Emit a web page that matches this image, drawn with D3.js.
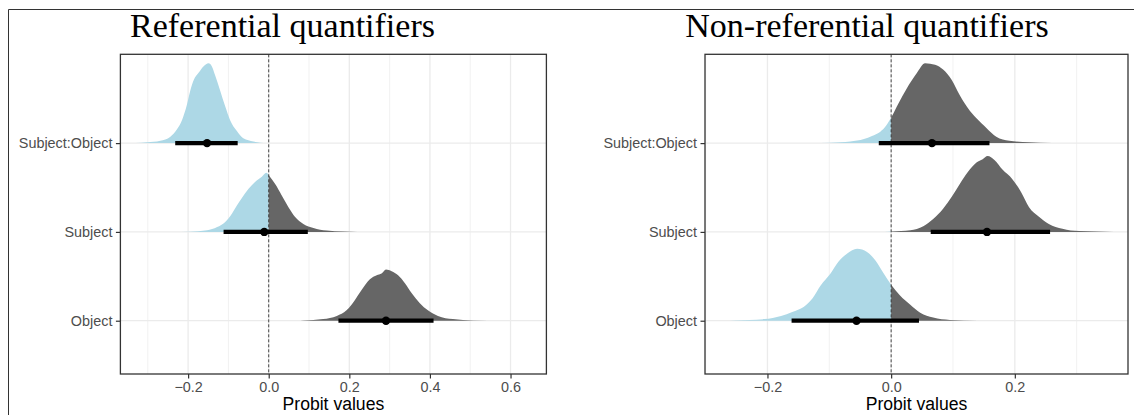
<!DOCTYPE html>
<html>
<head>
<meta charset="utf-8">
<script src="https://cdn.jsdelivr.net/npm/d3@7"></script>
<style>
  body { margin: 0; background: #fff; }
  svg { display: block; }
</style>
</head>
<body>
<div id="chart"></div>
<script>
// Category order from bottom to top
const categories = ["Object", "Subject", "Subject:Object"];

// x tick labels of each panel
const refXTicks = [-0.2, 0, 0.2, 0.4, 0.6];
const refMinorTicks = [-0.3, -0.1, 0.1, 0.3, 0.5];
const nonrefXTicks = [-0.2, 0, 0.2];
const nonrefMinorTicks = [-0.3, -0.1, 0.1, 0.3];

// Posterior densities: [probit value, height in % of panel max]
const refObjectDens = [[0.07,0],[0.086,0.3],[0.135,2],[0.169,6],[0.193,13],[0.214,26],[0.230,38],[0.251,52],[0.268,57],[0.280,59],[0.291,64],[0.305,62],[0.321,57],[0.338,47],[0.354,35],[0.375,22],[0.395,13],[0.420,6],[0.457,2],[0.507,0.4],[0.58,0]];
const refSubjectDens = [[-0.24,0],[-0.195,0.3],[-0.153,2],[-0.128,6],[-0.108,12.5],[-0.091,23],[-0.079,33],[-0.067,42],[-0.050,54],[-0.034,62.5],[-0.017,69],[-0.006,74],[0.003,69],[0.016,60],[0.032,46],[0.049,31],[0.065,19],[0.086,10],[0.111,5],[0.144,1.7],[0.185,0.4],[0.22,0]];
const refSubjObjDens = [[-0.33,0],[-0.302,1],[-0.269,3],[-0.244,8],[-0.228,17],[-0.215,29],[-0.203,48],[-0.195,65],[-0.186,79],[-0.174,88],[-0.162,96],[-0.149,100],[-0.141,96],[-0.133,85],[-0.120,65],[-0.108,46],[-0.096,29],[-0.079,15],[-0.063,6],[-0.038,2],[-0.005,0]];

const nonrefObjectDens = [[-0.27,0],[-0.253,0.4],[-0.205,2],[-0.178,6],[-0.160,11],[-0.141,17.5],[-0.127,28],[-0.114,44],[-0.098,59],[-0.085,74],[-0.071,84],[-0.055,90],[-0.039,86],[-0.026,76],[-0.012,59],[0,45],[0.014,32],[0.031,20],[0.047,10],[0.068,4],[0.095,1],[0.14,0]];
const nonrefSubjectDens = [[-0.01,0],[0.001,0.4],[0.031,2],[0.052,7],[0.068,16],[0.084,29],[0.098,44],[0.111,60],[0.124,75],[0.138,87],[0.148,91],[0.156,95],[0.167,90],[0.180,78],[0.196,66],[0.210,50],[0.223,31],[0.239,19],[0.255,10],[0.277,4],[0.304,1],[0.36,0]];
const nonrefSubjObjDens = [[-0.13,0],[-0.098,0.5],[-0.066,2],[-0.044,5],[-0.031,9],[-0.018,14],[-0.008,22],[0,32],[0.012,50],[0.025,68],[0.041,87],[0.055,100],[0.071,98],[0.084,92],[0.098,79],[0.111,60],[0.124,44],[0.138,31],[0.154,19],[0.170,8],[0.191,3],[0.223,1],[0.26,0]];

// 95% intervals and point estimates, same order as categories
const refLower = [0.173, -0.112, -0.232];
const refPoint = [0.291, -0.011, -0.153];
const refUpper = [0.409, 0.097, -0.077];
const nonrefLower = [-0.161, 0.064, -0.020];
const nonrefPoint = [-0.056, 0.155, 0.066];
const nonrefUpper = [0.045, 0.257, 0.159];

const width = 1134, height = 415;
const panelTop = 54.3, panelBottom = 374;

const panels = [
  { id: "ref", title: "Referential quantifiers", titleX: 282.5, left: 120.4, right: 546.4,
    domain: [-0.368, 0.689], ticks: refXTicks, minor: refMinorTicks,
    dens: [refObjectDens, refSubjectDens, refSubjObjDens],
    lower: refLower, point: refPoint, upper: refUpper },
  { id: "nonref", title: "Non-referential quantifiers", titleX: 867, left: 705, right: 1128,
    domain: [-0.301, 0.383], ticks: nonrefXTicks, minor: nonrefMinorTicks,
    dens: [nonrefObjectDens, nonrefSubjectDens, nonrefSubjObjDens],
    lower: nonrefLower, point: nonrefPoint, upper: nonrefUpper }
];

const svg = d3.select("#chart").append("svg")
  .attr("width", width)
  .attr("height", height);

const defs = svg.append("defs");

// outer frame (cut off at right and bottom)
svg.append("path")
  .attr("d", "M8.5," + height + "V9.5H" + width)
  .attr("fill", "none")
  .attr("stroke", "#333")
  .attr("stroke-width", 1);

// y scale shared by both panels (categories at 1, 2, 3)
const y = d3.scaleLinear().domain([0.4, 4.0]).range([panelBottom, panelTop]);
const bandPx = y(1) - y(2);
// 100% density = 0.9 of a category step
const hScale = d3.scaleLinear().domain([0, 100]).range([0, 0.9 * bandPx]);

panels.forEach(p => {
  const x = d3.scaleLinear().domain(p.domain).range([p.left, p.right]);
  const g = svg.append("g");

  // clip paths: left of zero, right of zero
  defs.append("clipPath").attr("id", p.id + "-neg")
    .append("rect")
    .attr("x", p.left).attr("y", panelTop)
    .attr("width", x(0) - p.left).attr("height", panelBottom - panelTop);
  defs.append("clipPath").attr("id", p.id + "-pos")
    .append("rect")
    .attr("x", x(0)).attr("y", panelTop)
    .attr("width", p.right - x(0)).attr("height", panelBottom - panelTop);

  // Title
  svg.append("text")
    .attr("x", p.titleX)
    .attr("y", 36.7)
    .attr("text-anchor", "middle")
    .attr("font-family", "'Liberation Serif', 'DejaVu Serif', serif")
    .attr("font-size", 34)
    .attr("fill", "#000")
    .text(p.title);

  // grid
  g.selectAll(".minor").data(p.minor).enter().append("line")
    .attr("x1", d => x(d)).attr("x2", d => x(d))
    .attr("y1", panelTop).attr("y2", panelBottom)
    .attr("stroke", "#EBEBEB").attr("stroke-width", 0.7);
  g.selectAll(".major").data(p.ticks).enter().append("line")
    .attr("x1", d => x(d)).attr("x2", d => x(d))
    .attr("y1", panelTop).attr("y2", panelBottom)
    .attr("stroke", "#EBEBEB").attr("stroke-width", 1.3);
  g.selectAll(".hgrid").data(categories).enter().append("line")
    .attr("x1", p.left).attr("x2", p.right)
    .attr("y1", (d, i) => y(i + 1)).attr("y2", (d, i) => y(i + 1))
    .attr("stroke", "#EBEBEB").attr("stroke-width", 1.3);

  // densities, split in colour at zero
  p.dens.forEach((dens, i) => {
    const base = y(i + 1);
    const area = d3.area()
      .x(d => x(d[0]))
      .y0(base)
      .y1(d => base - hScale(d[1]))
      .curve(d3.curveMonotoneX);
    g.append("path").datum(dens)
      .attr("d", area)
      .attr("fill", "#ADD8E6")
      .attr("clip-path", "url(#" + p.id + "-neg)");
    g.append("path").datum(dens)
      .attr("d", area)
      .attr("fill", "#666666")
      .attr("clip-path", "url(#" + p.id + "-pos)");
  });

  // zero reference line
  g.append("line")
    .attr("x1", x(0)).attr("x2", x(0))
    .attr("y1", panelTop).attr("y2", panelBottom)
    .attr("stroke", "#333")
    .attr("stroke-width", 0.9)
    .attr("stroke-dasharray", "3,2");

  // intervals and points
  categories.forEach((c, i) => {
    g.append("line")
      .attr("x1", x(p.lower[i])).attr("x2", x(p.upper[i]))
      .attr("y1", y(i + 1)).attr("y2", y(i + 1))
      .attr("stroke", "#000")
      .attr("stroke-width", 4.3);
    g.append("circle")
      .attr("cx", x(p.point[i])).attr("cy", y(i + 1))
      .attr("r", 4.2)
      .attr("fill", "#000");
  });

  // panel border
  g.append("rect")
    .attr("x", p.left).attr("y", panelTop)
    .attr("width", p.right - p.left).attr("height", panelBottom - panelTop)
    .attr("fill", "none")
    .attr("stroke", "#333333")
    .attr("stroke-width", 1.3);

  // x axis
  const xAxis = d3.axisBottom(x)
    .tickValues(p.ticks)
    .tickFormat(d3.format(".1f"))
    .tickSize(4.5)
    .tickPadding(3);
  const xg = svg.append("g")
    .attr("transform", "translate(0," + panelBottom + ")")
    .call(xAxis);
  xg.select(".domain").remove();
  xg.selectAll(".tick line").attr("stroke", "#333").attr("stroke-width", 1.2);
  xg.selectAll(".tick text")
    .attr("fill", "#4D4D4D")
    .attr("font-family", "'Liberation Sans', Arial, sans-serif")
    .attr("font-size", 14.4);

  // y axis
  const yAxis = d3.axisLeft(y)
    .tickValues([1, 2, 3])
    .tickFormat(d => categories[d - 1])
    .tickSize(4.5)
    .tickPadding(3.5);
  const yg = svg.append("g")
    .attr("transform", "translate(" + p.left + ",0)")
    .call(yAxis);
  yg.select(".domain").remove();
  yg.selectAll(".tick line").attr("stroke", "#333").attr("stroke-width", 1.2);
  yg.selectAll(".tick text")
    .attr("fill", "#4D4D4D")
    .attr("font-family", "'Liberation Sans', Arial, sans-serif")
    .attr("font-size", 14.4);

  // x axis title
  svg.append("text")
    .attr("x", (p.left + p.right) / 2)
    .attr("y", 410)
    .attr("text-anchor", "middle")
    .attr("font-family", "'Liberation Sans', Arial, sans-serif")
    .attr("font-size", 17.6)
    .attr("fill", "#000")
    .text("Probit values");
});
</script>
</body>
</html>
